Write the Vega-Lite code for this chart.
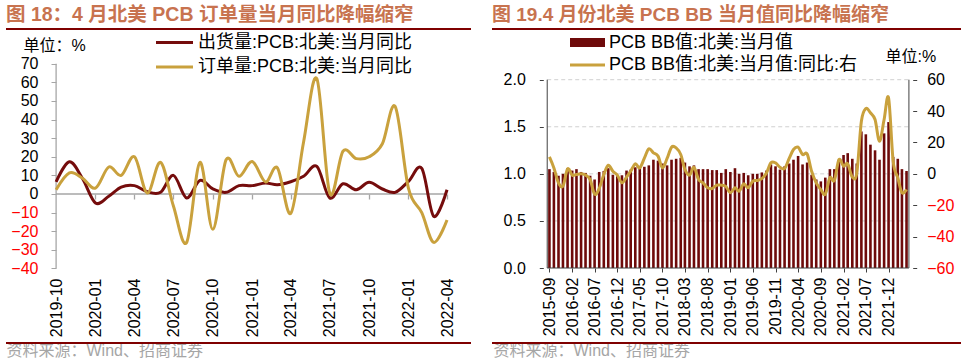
{
  "$schema": "https://vega.github.io/schema/vega-lite/v6.json",
  "padding": {"left": 5, "top": 4, "right": 0, "bottom": 0},
  "spacing": 19,
  "background": "white",
  "resolve": {"scale": {"stroke": "independent", "fill": "independent", "color": "independent"}, "legend": {"stroke": "independent", "fill": "independent", "color": "independent"}},
  "config": {
    "font": "Liberation Sans, Noto Sans CJK SC",
    "view": {"stroke": null},
    "axis": {"grid": false, "labelOverlap": false, "labelFlush": false, "labelColor": "#000000", "labelFont": "Liberation Sans, Noto Sans CJK SC", "titleFont": "Liberation Sans, Noto Sans CJK SC"},
    "legend": {"labelFont": "Liberation Sans, Noto Sans CJK SC"}
  },
  "datasets": {
    "left": [
      {"month": "2019-10-01", "出货量:PCB:北美:当月同比": 6.5, "订单量:PCB:北美:当月同比": 2.3},
      {"month": "2019-11-01", "出货量:PCB:北美:当月同比": 17.3, "订单量:PCB:北美:当月同比": 11.3},
      {"month": "2019-12-01", "出货量:PCB:北美:当月同比": 8.6, "订单量:PCB:北美:当月同比": 8.6},
      {"month": "2020-01-01", "出货量:PCB:北美:当月同比": -4.8, "订单量:PCB:北美:当月同比": 3.2},
      {"month": "2020-02-01", "出货量:PCB:北美:当月同比": -1.2, "订单量:PCB:北美:当月同比": 14.5},
      {"month": "2020-03-01", "出货量:PCB:北美:当月同比": 3.7, "订单量:PCB:北美:当月同比": 10},
      {"month": "2020-04-01", "出货量:PCB:北美:当月同比": 4.5, "订单量:PCB:北美:当月同比": 20},
      {"month": "2020-05-01", "出货量:PCB:北美:当月同比": 1.2, "订单量:PCB:北美:当月同比": 0.5},
      {"month": "2020-06-01", "出货量:PCB:北美:当月同比": 0.9, "订单量:PCB:北美:当月同比": 17},
      {"month": "2020-07-01", "出货量:PCB:北美:当月同比": 10, "订单量:PCB:北美:当月同比": -6.5},
      {"month": "2020-08-01", "出货量:PCB:北美:当月同比": -2.1, "订单量:PCB:北美:当月同比": -26},
      {"month": "2020-09-01", "出货量:PCB:北美:当月同比": 7.3, "订单量:PCB:北美:当月同比": 17},
      {"month": "2020-10-01", "出货量:PCB:北美:当月同比": 2.7, "订单量:PCB:北美:当月同比": -19},
      {"month": "2020-11-01", "出货量:PCB:北美:当月同比": 0.9, "订单量:PCB:北美:当月同比": 18.4},
      {"month": "2020-12-01", "出货量:PCB:北美:当月同比": 4.5, "订单量:PCB:北美:当月同比": 9.5},
      {"month": "2021-01-01", "出货量:PCB:北美:当月同比": 4.5, "订单量:PCB:北美:当月同比": 17.5},
      {"month": "2021-02-01", "出货量:PCB:北美:当月同比": 5.9, "订单量:PCB:北美:当月同比": 6.5},
      {"month": "2021-03-01", "出货量:PCB:北美:当月同比": 5, "订单量:PCB:北美:当月同比": 14},
      {"month": "2021-04-01", "出货量:PCB:北美:当月同比": 6.6, "订单量:PCB:北美:当月同比": -10.5},
      {"month": "2021-05-01", "出货量:PCB:北美:当月同比": 9.5, "订单量:PCB:北美:当月同比": 28},
      {"month": "2021-06-01", "出货量:PCB:北美:当月同比": 14.8, "订单量:PCB:北美:当月同比": 62},
      {"month": "2021-07-01", "出货量:PCB:北美:当月同比": -2.1, "订单量:PCB:北美:当月同比": 0.5},
      {"month": "2021-08-01", "出货量:PCB:北美:当月同比": 5.5, "订单量:PCB:北美:当月同比": 23},
      {"month": "2021-09-01", "出货量:PCB:北美:当月同比": 2.3, "订单量:PCB:北美:当月同比": 19},
      {"month": "2021-10-01", "出货量:PCB:北美:当月同比": 6.3, "订单量:PCB:北美:当月同比": 20},
      {"month": "2021-11-01", "出货量:PCB:北美:当月同比": 2.7, "订单量:PCB:北美:当月同比": 27},
      {"month": "2021-12-01", "出货量:PCB:北美:当月同比": 0.9, "订单量:PCB:北美:当月同比": 47},
      {"month": "2022-01-01", "出货量:PCB:北美:当月同比": 6.8, "订单量:PCB:北美:当月同比": 3},
      {"month": "2022-02-01", "出货量:PCB:北美:当月同比": 13.8, "订单量:PCB:北美:当月同比": -10},
      {"month": "2022-03-01", "出货量:PCB:北美:当月同比": -12, "订单量:PCB:北美:当月同比": -26},
      {"month": "2022-04-01", "出货量:PCB:北美:当月同比": 2.3, "订单量:PCB:北美:当月同比": -14}
    ],
    "right": [
      {"month": "2015-09-01", "bb": 1.05, "yoy": 10.8},
      {"month": "2015-10-01", "bb": 1.02, "yoy": 3.8},
      {"month": "2015-11-01", "bb": 0.98, "yoy": -5.7},
      {"month": "2015-12-01", "bb": 1.00, "yoy": -7.9},
      {"month": "2016-01-01", "bb": 1.06, "yoy": 3.2},
      {"month": "2016-02-01", "bb": 1.035, "yoy": -0.8},
      {"month": "2016-03-01", "bb": 1.05, "yoy": -0.4},
      {"month": "2016-04-01", "bb": 1.02, "yoy": 0},
      {"month": "2016-05-01", "bb": 1.01, "yoy": -0.8},
      {"month": "2016-06-01", "bb": 0.98, "yoy": -3.6},
      {"month": "2016-07-01", "bb": 0.94, "yoy": -13},
      {"month": "2016-08-01", "bb": 1.02, "yoy": -9.3},
      {"month": "2016-09-01", "bb": 1.03, "yoy": -0.4},
      {"month": "2016-10-01", "bb": 1.06, "yoy": 5.5},
      {"month": "2016-11-01", "bb": 0.99, "yoy": 1.7},
      {"month": "2016-12-01", "bb": 0.975, "yoy": -0.8},
      {"month": "2017-01-01", "bb": 0.985, "yoy": -5.7},
      {"month": "2017-02-01", "bb": 1.035, "yoy": -2.1},
      {"month": "2017-03-01", "bb": 1.045, "yoy": 1.7},
      {"month": "2017-04-01", "bb": 1.07, "yoy": 6.4},
      {"month": "2017-05-01", "bb": 1.08, "yoy": 3.8},
      {"month": "2017-06-01", "bb": 1.075, "yoy": 10},
      {"month": "2017-07-01", "bb": 1.09, "yoy": 16},
      {"month": "2017-08-01", "bb": 1.15, "yoy": 13.4},
      {"month": "2017-09-01", "bb": 1.14, "yoy": 11.3},
      {"month": "2017-10-01", "bb": 1.11, "yoy": 3.8},
      {"month": "2017-11-01", "bb": 1.09, "yoy": 9.8},
      {"month": "2017-12-01", "bb": 1.15, "yoy": 17},
      {"month": "2018-01-01", "bb": 1.16, "yoy": 16.6},
      {"month": "2018-02-01", "bb": 1.17, "yoy": 12.3},
      {"month": "2018-03-01", "bb": 1.12, "yoy": 2.8},
      {"month": "2018-04-01", "bb": 1.08, "yoy": -0.8},
      {"month": "2018-05-01", "bb": 1.09, "yoy": 4.2},
      {"month": "2018-06-01", "bb": 1.05, "yoy": -3.6},
      {"month": "2018-07-01", "bb": 1.05, "yoy": -5.7},
      {"month": "2018-08-01", "bb": 1.05, "yoy": -8.9},
      {"month": "2018-09-01", "bb": 1.04, "yoy": -9.3},
      {"month": "2018-10-01", "bb": 1.04, "yoy": -7.2},
      {"month": "2018-11-01", "bb": 1.01, "yoy": -7.2},
      {"month": "2018-12-01", "bb": 1.05, "yoy": -8},
      {"month": "2019-01-01", "bb": 1.02, "yoy": -12},
      {"month": "2019-02-01", "bb": 1.06, "yoy": -8.9},
      {"month": "2019-03-01", "bb": 1.00, "yoy": -11},
      {"month": "2019-04-01", "bb": 1.01, "yoy": -6.4},
      {"month": "2019-05-01", "bb": 0.985, "yoy": -8.9},
      {"month": "2019-06-01", "bb": 1.00, "yoy": -4.7},
      {"month": "2019-07-01", "bb": 1.00, "yoy": -4.2},
      {"month": "2019-08-01", "bb": 1.015, "yoy": -3},
      {"month": "2019-09-01", "bb": 1.035, "yoy": 0.6},
      {"month": "2019-10-01", "bb": 1.10, "yoy": 7},
      {"month": "2019-11-01", "bb": 1.08, "yoy": 7},
      {"month": "2019-12-01", "bb": 1.045, "yoy": 4.2},
      {"month": "2020-01-01", "bb": 1.08, "yoy": 3.4},
      {"month": "2020-02-01", "bb": 1.11, "yoy": 9.8},
      {"month": "2020-03-01", "bb": 1.15, "yoy": 15.5},
      {"month": "2020-04-01", "bb": 1.19, "yoy": 17},
      {"month": "2020-05-01", "bb": 1.10, "yoy": 12.3},
      {"month": "2020-06-01", "bb": 1.12, "yoy": 12.7},
      {"month": "2020-07-01", "bb": 0.99, "yoy": 1.7},
      {"month": "2020-08-01", "bb": 0.94, "yoy": -5.7},
      {"month": "2020-09-01", "bb": 0.92, "yoy": -10},
      {"month": "2020-10-01", "bb": 0.96, "yoy": -13},
      {"month": "2020-11-01", "bb": 1.05, "yoy": -2.5},
      {"month": "2020-12-01", "bb": 1.05, "yoy": -4.2},
      {"month": "2021-01-01", "bb": 1.15, "yoy": 9.1},
      {"month": "2021-02-01", "bb": 1.20, "yoy": 4.9},
      {"month": "2021-03-01", "bb": 1.22, "yoy": 6.4},
      {"month": "2021-04-01", "bb": 1.16, "yoy": -2.1},
      {"month": "2021-05-01", "bb": 1.11, "yoy": 0.6},
      {"month": "2021-06-01", "bb": 1.45, "yoy": 33.5},
      {"month": "2021-07-01", "bb": 1.42, "yoy": 41.6},
      {"month": "2021-08-01", "bb": 1.31, "yoy": 38.9},
      {"month": "2021-09-01", "bb": 1.25, "yoy": 34.6},
      {"month": "2021-10-01", "bb": 1.15, "yoy": 20.8},
      {"month": "2021-11-01", "bb": 1.43, "yoy": 34.6},
      {"month": "2021-12-01", "bb": 1.55, "yoy": 48.4},
      {"month": "2022-01-01", "bb": 1.18, "yoy": 8},
      {"month": "2022-02-01", "bb": 1.16, "yoy": -2.5},
      {"month": "2022-03-01", "bb": 1.05, "yoy": -12},
      {"month": "2022-04-01", "bb": 1.03, "yoy": -10}
    ]
  },
  "hconcat": [
    {
      "width": 465,
      "height": 314,
      "title": {"text": "图 18：4 月北美 PCB 订单量当月同比降幅缩窄", "anchor": "start", "frame": "group", "fontSize": 19.5, "fontWeight": "bold", "color": "#C8734F", "offset": 3},
      "resolve": {"axis": {"x": "independent", "y": "independent"}},
      "layer": [
        {
          "data": {"values": [{}]},
          "mark": {"type": "rule", "color": "#7F0000", "strokeWidth": 2},
          "encoding": {"y": {"datum": 88.7, "type": "quantitative", "scale": {"domain": [-80.1, 88.7], "nice": false, "zero": false}, "axis": null}}
        },
        {
          "data": {"values": [{}]},
          "mark": {"type": "rule", "color": "#7F0000", "strokeWidth": 2},
          "encoding": {"y": {"datum": -80.1, "type": "quantitative", "scale": {"domain": [-80.1, 88.7], "nice": false, "zero": false}, "axis": null}}
        },
        {
          "data": {"values": [{}]},
          "mark": {"type": "rule", "color": "#A6A6A6", "strokeWidth": 1.3},
          "encoding": {
            "x": {"datum": {"year": 2019, "month": 10, "date": 1, "utc": true}, "type": "temporal", "scale": {"type": "utc", "domain": [{"year": 2019, "month": 6, "date": 6, "utc": true}, {"year": 2022, "month": 5, "date": 27, "utc": true}]}, "axis": null},
            "y": {"datum": -40, "type": "quantitative", "scale": {"domain": [-80.1, 88.7], "nice": false, "zero": false}, "axis": null},
            "y2": {"datum": 70}
          }
        },
        {
          "data": {"values": [{}]},
          "mark": {"type": "rule", "color": "#A6A6A6", "strokeWidth": 1.3},
          "encoding": {
            "x": {"datum": {"year": 2019, "month": 10, "date": 1, "utc": true}, "type": "temporal", "scale": {"type": "utc", "domain": [{"year": 2019, "month": 6, "date": 6, "utc": true}, {"year": 2022, "month": 5, "date": 27, "utc": true}]},
              "axis": {"orient": "bottom", "offset": -149, "domain": false, "labels": false, "ticks": true, "tickSize": 5, "tickColor": "#A6A6A6", "tickWidth": 1.3, "title": null, "grid": false,
                "values": [{"year": 2020, "month": 1, "date": 1, "utc": true}, {"year": 2020, "month": 4, "date": 1, "utc": true}, {"year": 2020, "month": 7, "date": 1, "utc": true}, {"year": 2020, "month": 10, "date": 1, "utc": true}, {"year": 2021, "month": 1, "date": 1, "utc": true}, {"year": 2021, "month": 4, "date": 1, "utc": true}, {"year": 2021, "month": 7, "date": 1, "utc": true}, {"year": 2021, "month": 10, "date": 1, "utc": true}, {"year": 2022, "month": 1, "date": 1, "utc": true}, {"year": 2022, "month": 4, "date": 1, "utc": true}]}},
            "x2": {"datum": {"year": 2022, "month": 4, "date": 1, "utc": true}},
            "y": {"datum": 0, "type": "quantitative", "scale": {"domain": [-80.1, 88.7], "nice": false, "zero": false}, "axis": null}
          }
        },
        {
          "data": {"name": "left"},
          "mark": {"type": "line", "interpolate": "cardinal", "tension": 0, "strokeWidth": 3},
          "encoding": {
            "x": {"field": "month", "type": "temporal", "scale": {"type": "utc", "domain": [{"year": 2019, "month": 6, "date": 6, "utc": true}, {"year": 2022, "month": 5, "date": 27, "utc": true}]},
              "axis": {"orient": "bottom", "offset": -74, "domain": false, "ticks": false, "grid": false, "labelAngle": 270, "labelFontSize": 16, "labelPadding": 9, "labelFlush": false, "labelOverlap": false, "format": "%Y-%m", "formatType": "time",
                "values": [{"year": 2019, "month": 10, "date": 1, "utc": true}, {"year": 2020, "month": 1, "date": 1, "utc": true}, {"year": 2020, "month": 4, "date": 1, "utc": true}, {"year": 2020, "month": 7, "date": 1, "utc": true}, {"year": 2020, "month": 10, "date": 1, "utc": true}, {"year": 2021, "month": 1, "date": 1, "utc": true}, {"year": 2021, "month": 4, "date": 1, "utc": true}, {"year": 2021, "month": 7, "date": 1, "utc": true}, {"year": 2021, "month": 10, "date": 1, "utc": true}, {"year": 2022, "month": 1, "date": 1, "utc": true}, {"year": 2022, "month": 4, "date": 1, "utc": true}],
                "title": "资料来源：Wind、招商证券", "titleX": 0, "titleY": 81.5, "titleAlign": "left", "titleBaseline": "middle", "titleFontSize": 16, "titleFontWeight": "normal", "titleColor": "#A6A6A6"}},
            "y": {"field": "出货量:PCB:北美:当月同比", "type": "quantitative", "scale": {"domain": [-80.1, 88.7], "nice": false, "zero": false},
              "axis": {"orient": "left", "offset": -50, "values": [-40, -30, -20, -10, 0, 10, 20, 30, 40, 50, 60, 70], "domain": false, "ticks": true, "tickSize": 5, "tickColor": "#A6A6A6", "labelFontSize": 16, "labelPadding": 13, "labelOverlap": false, "grid": false,
                "labelColor": {"condition": {"test": "datum.value < 0", "value": "#FF0000"}, "value": "#000000"},
                "title": "单位：%", "titleAngle": 0, "titleX": -33, "titleY": 16, "titleAlign": "left", "titleBaseline": "middle", "titleFontSize": 16, "titleFontWeight": "normal", "titleColor": "#000000"}},
            "stroke": {"datum": "出货量:PCB:北美:当月同比", "type": "nominal", "scale": {"range": ["#750C0C"]},
              "legend": {"orient": "none", "legendX": 157.5, "legendY": 2.5, "title": null, "symbolType": "M-2,0H2", "symbolSize": 342.25, "symbolStrokeWidth": 3, "symbolFillColor": "transparent", "labelFontSize": 18, "labelOffset": 12.5, "labelLimit": 400, "labelColor": "#000000"}}
          }
        },
        {
          "data": {"name": "left"},
          "mark": {"type": "line", "interpolate": "cardinal", "tension": 0, "strokeWidth": 3},
          "encoding": {
            "x": {"field": "month", "type": "temporal", "scale": {"type": "utc", "domain": [{"year": 2019, "month": 6, "date": 6, "utc": true}, {"year": 2022, "month": 5, "date": 27, "utc": true}]}, "axis": null},
            "y": {"field": "订单量:PCB:北美:当月同比", "type": "quantitative", "scale": {"domain": [-80.1, 88.7], "nice": false, "zero": false}, "axis": null},
            "color": {"datum": "订单量:PCB:北美:当月同比", "type": "nominal", "scale": {"range": ["#C9A13D"]},
              "legend": {"orient": "none", "legendX": 157.5, "legendY": 27, "title": null, "symbolType": "M-2,0H2", "symbolSize": 342.25, "symbolStrokeWidth": 3, "symbolFillColor": "transparent", "labelFontSize": 18, "labelOffset": 12.5, "labelLimit": 400, "labelColor": "#000000"}}
          }
        }
      ]
    },
    {
      "width": 469,
      "height": 314,
      "title": {"text": "图 19.4 月份北美 PCB BB 当月值同比降幅缩窄", "anchor": "start", "frame": "group", "fontSize": 19, "fontWeight": "bold", "color": "#C8734F", "offset": 3},
      "resolve": {"scale": {"y": "independent"}, "axis": {"x": "independent"}},
      "layer": [
        {
          "resolve": {"axis": {"x": "independent"}},
          "layer": [
            {
              "data": {"values": [{}]},
              "mark": {"type": "rule", "color": "#7F0000", "strokeWidth": 2},
              "encoding": {"y": {"datum": 2.5385, "type": "quantitative", "scale": {"domain": [-0.7966, 2.5385], "nice": false, "zero": false}}}
            },
            {
              "data": {"values": [{}]},
              "mark": {"type": "rule", "color": "#7F0000", "strokeWidth": 2},
              "encoding": {"y": {"datum": -0.7966, "type": "quantitative", "scale": {"domain": [-0.7966, 2.5385], "nice": false, "zero": false}}}
            },
            {
              "data": {"values": [{}]},
              "mark": {"type": "rule", "color": "#D0D0D0", "strokeWidth": 1, "strokeDash": [4, 3]},
              "encoding": {
                "x": {"datum": {"year": 2015, "month": 8, "date": 17, "utc": true}, "type": "temporal", "scale": {"type": "utc", "domain": [{"year": 2014, "month": 9, "date": 13, "utc": true}, {"year": 2023, "month": 2, "date": 28, "utc": true}]}, "axis": null},
                "x2": {"datum": {"year": 2022, "month": 4, "date": 17, "utc": true}},
                "y": {"datum": 2.0, "type": "quantitative", "scale": {"domain": [-0.7966, 2.5385], "nice": false, "zero": false}}
              }
            },
            {
              "data": {"values": [{}]},
              "mark": {"type": "rule", "color": "#D0D0D0", "strokeWidth": 1, "strokeDash": [4, 3]},
              "encoding": {
                "x": {"datum": {"year": 2015, "month": 8, "date": 17, "utc": true}, "type": "temporal", "scale": {"type": "utc", "domain": [{"year": 2014, "month": 9, "date": 13, "utc": true}, {"year": 2023, "month": 2, "date": 28, "utc": true}]}, "axis": null},
                "x2": {"datum": {"year": 2022, "month": 4, "date": 17, "utc": true}},
                "y": {"datum": 1.5, "type": "quantitative", "scale": {"domain": [-0.7966, 2.5385], "nice": false, "zero": false}}
              }
            },
            {
              "data": {"values": [{}]},
              "mark": {"type": "rule", "color": "#D0D0D0", "strokeWidth": 1, "strokeDash": [4, 3]},
              "encoding": {
                "x": {"datum": {"year": 2015, "month": 8, "date": 17, "utc": true}, "type": "temporal", "scale": {"type": "utc", "domain": [{"year": 2014, "month": 9, "date": 13, "utc": true}, {"year": 2023, "month": 2, "date": 28, "utc": true}]}, "axis": null},
                "x2": {"datum": {"year": 2022, "month": 4, "date": 17, "utc": true}},
                "y": {"datum": 1.0, "type": "quantitative", "scale": {"domain": [-0.7966, 2.5385], "nice": false, "zero": false}}
              }
            },
            {
              "data": {"values": [{}]},
              "mark": {"type": "rule", "color": "#D0D0D0", "strokeWidth": 1, "strokeDash": [4, 3]},
              "encoding": {
                "x": {"datum": {"year": 2015, "month": 8, "date": 17, "utc": true}, "type": "temporal", "scale": {"type": "utc", "domain": [{"year": 2014, "month": 9, "date": 13, "utc": true}, {"year": 2023, "month": 2, "date": 28, "utc": true}]}, "axis": null},
                "x2": {"datum": {"year": 2022, "month": 4, "date": 17, "utc": true}},
                "y": {"datum": 0.5, "type": "quantitative", "scale": {"domain": [-0.7966, 2.5385], "nice": false, "zero": false}}
              }
            },
            {
              "data": {"name": "right"},
              "mark": {"type": "bar", "width": 2.6},
              "encoding": {
                "x": {"field": "month", "type": "temporal", "scale": {"type": "utc", "domain": [{"year": 2014, "month": 9, "date": 13, "utc": true}, {"year": 2023, "month": 2, "date": 28, "utc": true}]},
                  "axis": {"orient": "bottom", "offset": -75, "domain": false, "ticks": true, "tickSize": 4, "tickColor": "#404040", "grid": false, "labelAngle": 270, "labelFontSize": 16, "labelPadding": 5, "labelFlush": false, "labelOverlap": false, "format": "%Y-%m", "formatType": "time",
                    "values": [{"year": 2015, "month": 9, "date": 1, "utc": true}, {"year": 2016, "month": 2, "date": 1, "utc": true}, {"year": 2016, "month": 7, "date": 1, "utc": true}, {"year": 2016, "month": 12, "date": 1, "utc": true}, {"year": 2017, "month": 5, "date": 1, "utc": true}, {"year": 2017, "month": 10, "date": 1, "utc": true}, {"year": 2018, "month": 3, "date": 1, "utc": true}, {"year": 2018, "month": 8, "date": 1, "utc": true}, {"year": 2019, "month": 1, "date": 1, "utc": true}, {"year": 2019, "month": 6, "date": 1, "utc": true}, {"year": 2019, "month": 11, "date": 1, "utc": true}, {"year": 2020, "month": 4, "date": 1, "utc": true}, {"year": 2020, "month": 9, "date": 1, "utc": true}, {"year": 2021, "month": 2, "date": 1, "utc": true}, {"year": 2021, "month": 7, "date": 1, "utc": true}, {"year": 2021, "month": 12, "date": 1, "utc": true}],
                    "title": "资料来源：Wind、招商证券", "titleX": 1, "titleY": 82.5, "titleAlign": "left", "titleBaseline": "middle", "titleFontSize": 16, "titleFontWeight": "normal", "titleColor": "#A6A6A6"}},
                "y": {"field": "bb", "type": "quantitative", "scale": {"domain": [-0.7966, 2.5385], "nice": false, "zero": false},
                  "axis": {"orient": "left", "offset": -51.3, "values": [0, 0.5, 1, 1.5, 2], "format": ".1f", "domain": false, "ticks": true, "tickSize": 4, "tickColor": "#404040", "labelFontSize": 16, "labelPadding": 14, "labelOverlap": false, "title": null, "grid": false}},
                "fill": {"datum": "PCB BB值:北美:当月值", "type": "nominal", "scale": {"range": ["#6E0A0A"]},
                  "legend": {"orient": "none", "legendX": 86.5, "legendY": 4.5, "title": null, "symbolType": "M-2,-0.52H2V0.52H-2Z", "symbolSize": 306.25, "symbolStrokeWidth": 0, "labelFontSize": 18, "labelOffset": 12.5, "labelLimit": 400, "labelColor": "#000000"}}
              }
            },
            {
              "data": {"values": [{}]},
              "mark": {"type": "rule", "color": "#404040", "strokeWidth": 1},
              "encoding": {
                "x": {"datum": {"year": 2015, "month": 8, "date": 17, "utc": true}, "type": "temporal", "scale": {"type": "utc", "domain": [{"year": 2014, "month": 9, "date": 13, "utc": true}, {"year": 2023, "month": 2, "date": 28, "utc": true}]}, "axis": null},
                "x2": {"datum": {"year": 2022, "month": 4, "date": 17, "utc": true}},
                "y": {"datum": 0, "type": "quantitative", "scale": {"domain": [-0.7966, 2.5385], "nice": false, "zero": false}}
              }
            },
            {
              "data": {"values": [{}]},
              "mark": {"type": "rule", "color": "#404040", "strokeWidth": 1},
              "encoding": {
                "x": {"datum": {"year": 2015, "month": 8, "date": 17, "utc": true}, "type": "temporal", "scale": {"type": "utc", "domain": [{"year": 2014, "month": 9, "date": 13, "utc": true}, {"year": 2023, "month": 2, "date": 28, "utc": true}]}, "axis": null},
                "y": {"datum": 0, "type": "quantitative", "scale": {"domain": [-0.7966, 2.5385], "nice": false, "zero": false}},
                "y2": {"datum": 2.0}
              }
            },
            {
              "data": {"values": [{}]},
              "mark": {"type": "rule", "color": "#404040", "strokeWidth": 1},
              "encoding": {
                "x": {"datum": {"year": 2022, "month": 4, "date": 17, "utc": true}, "type": "temporal", "scale": {"type": "utc", "domain": [{"year": 2014, "month": 9, "date": 13, "utc": true}, {"year": 2023, "month": 2, "date": 28, "utc": true}]}, "axis": null},
                "y": {"datum": 0, "type": "quantitative", "scale": {"domain": [-0.7966, 2.5385], "nice": false, "zero": false}},
                "y2": {"datum": 2.0}
              }
            }
          ]
        },
        {
          "data": {"name": "right"},
          "mark": {"type": "line", "interpolate": "cardinal", "tension": 0, "strokeWidth": 3},
          "encoding": {
            "x": {"field": "month", "type": "temporal", "scale": {"type": "utc", "domain": [{"year": 2014, "month": 9, "date": 13, "utc": true}, {"year": 2023, "month": 2, "date": 28, "utc": true}]}, "axis": null},
            "y": {"field": "yoy", "type": "quantitative", "scale": {"domain": [-107.79, 92.31], "nice": false, "zero": false},
              "axis": {"orient": "right", "offset": -48.3, "values": [-60, -40, -20, 0, 20, 40, 60], "domain": false, "ticks": true, "tickSize": 4, "tickColor": "#404040", "labelFontSize": 16, "labelPadding": 10, "labelOverlap": false, "grid": false,
                "labelColor": {"condition": {"test": "datum.value < 0", "value": "#FF0000"}, "value": "#000000"},
                "title": "单位:%", "titleAngle": 0, "titleX": -27.7, "titleY": 27, "titleAlign": "left", "titleBaseline": "middle", "titleFontSize": 16, "titleFontWeight": "normal", "titleColor": "#000000"}},
            "stroke": {"datum": "PCB BB值:北美:当月值:同比:右", "type": "nominal", "scale": {"range": ["#C9A13D"]},
              "legend": {"orient": "none", "legendX": 85, "legendY": 25.5, "title": null, "symbolType": "M-2,0H2", "symbolSize": 306.25, "symbolStrokeWidth": 3, "symbolFillColor": "transparent", "labelFontSize": 18, "labelOffset": 11, "labelLimit": 400, "labelColor": "#000000"}}
          }
        }
      ]
    }
  ]
}
